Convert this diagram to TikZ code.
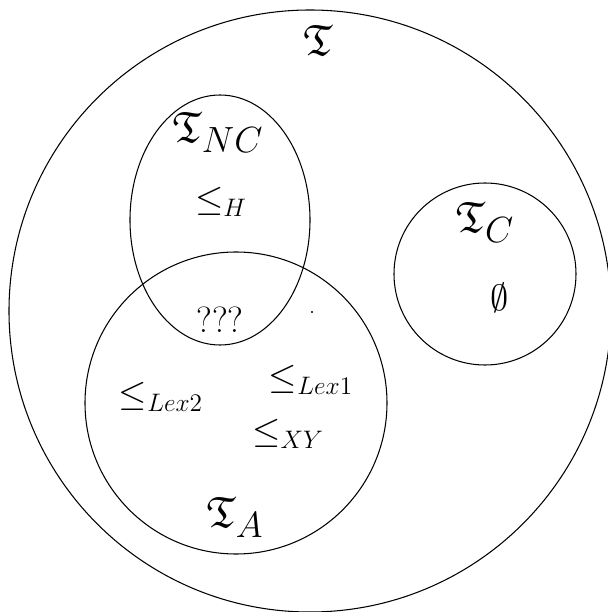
\documentclass[tikz,border=0pt]{standalone}
\usepackage{amsmath}
\usepackage{amssymb}
\usepackage{tikz}
\usetikzlibrary{shapes.geometric,positioning}

\begin{document}
\begin{tikzpicture}[
  conjunto/.style={draw,circle,line width=0.6pt,inner sep=0pt},
  etiqueta/.style={inner sep=0pt,font=\huge},
  nombre/.style={inner sep=0pt,font=\Huge}
]
\useasboundingbox (-6.2,-6.02) rectangle (5.96,6.22);
% conjuntos
\node[conjunto,minimum size=12.04cm] (T) at (0,0) {};
\node[draw,ellipse,line width=0.6pt,inner sep=0pt,minimum width=3.6cm,minimum height=5cm] (TNC) at (-1.8,1.82) {};
\node[conjunto,minimum size=6.04cm] (TA) at (-1.48,-1.84) {};
\node[conjunto,minimum size=3.64cm] (TC) at (3.5,0.74) {};
% nombres de los conjuntos
\node[nombre] (labT) at (0.16,5.42) {$\mathfrak{T}$};
\node[nombre] (labTNC) at (-1.84,3.58) {$\mathfrak{T}_{NC}$};
\node[nombre] (labTA) at (-1.5,-4.12) {$\mathfrak{T}_A$};
\node[nombre] (labTC) at (3.5,1.78) {$\mathfrak{T}_C$};
% ordenes
\node[etiqueta] (ordH) at (-1.78,2.18) {$\leq_H$};
\node[etiqueta] (ordQ) at (-1.8,-0.18) {???};
\node[etiqueta] (ordLexB) at (-2.98,-1.72) {$\leq_{Lex2}$};
\node[etiqueta] (ordLexA) at (0.02,-1.38) {$\leq_{Lex1}$};
\node[etiqueta] (ordXY) at (-0.44,-2.46) {$\leq_{XY}$};
\node[etiqueta] (vacio) at (3.8,0.26) {$\emptyset$};
\coordinate (punto) at (0.04,-0.02);
\fill (punto) circle (0.6pt);
\end{tikzpicture}
\end{document}
